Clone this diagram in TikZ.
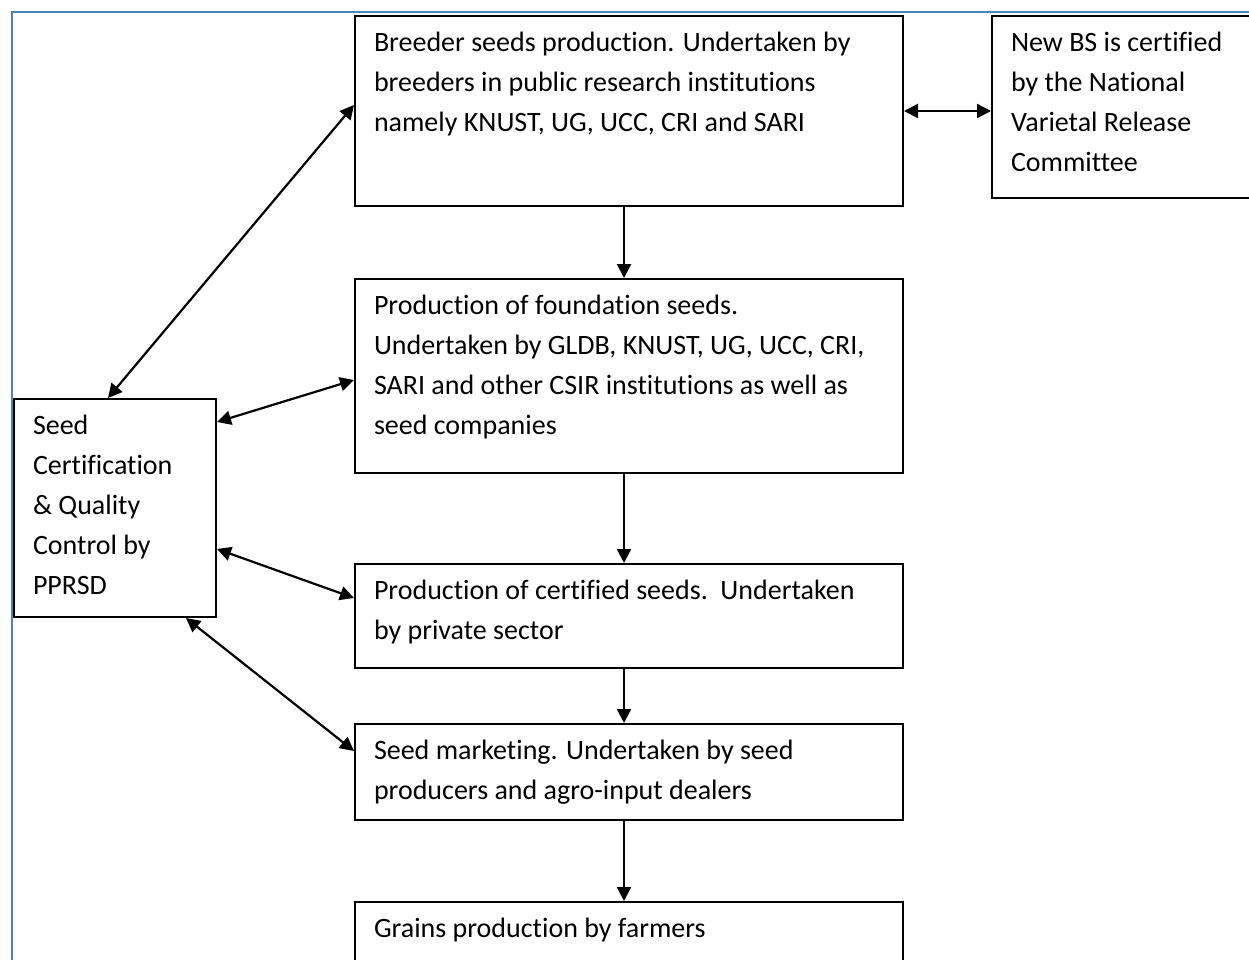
\documentclass[tikz,border=0pt]{standalone}
\usepackage{fontspec}
\setmainfont{Carlito}[Ligatures=NoCommon]
\usetikzlibrary{arrows.meta,positioning}
\definecolor{frameblue}{RGB}{79,129,189}
\newcommand{\boxtext}[3]{\parbox[t][#2][t]{#1}{#3}}

\begin{document}
\begin{tikzpicture}[
            x=1pt, y=1pt,
            stage/.style={draw, line width=2pt, anchor=north west, inner xsep=19pt, inner ysep=16pt, font=\fontsize{28}{40}\selectfont},
            arrow/.style={-{Triangle[length=14pt,width=14pt]}, line width=2.2pt},
            biarrow/.style={{Triangle[length=14pt,width=14pt]}-{Triangle[length=14pt,width=14pt]}, line width=2.2pt}
        ]
        \clip (0,0) rectangle (1249,-959);
        \useasboundingbox (0,0) rectangle (1249,-959);

        % Page frame
        \draw[frameblue, line width=2pt] (12,-12) rectangle (1300,-1000);

        \node[stage] (breeder) at (354,-15) {\boxtext{510pt}{158pt}{Breeder seeds production. Undertaken by\\breeders in public research institutions\\namely KNUST, UG, UCC, CRI and SARI}};

        \node[stage, right=87pt of breeder.north east, anchor=north west] (newbs) {\boxtext{224pt}{150pt}{New BS is certified\\by the National\\Varietal Release\\Committee}};

        \node[stage, below=71pt of breeder] (foundation) {\boxtext{510pt}{162pt}{Production of foundation seeds.\\Undertaken by GLDB, KNUST, UG, UCC, CRI,\\SARI and other CSIR institutions as well as\\seed companies}};

        \node[stage, below=89pt of foundation] (certified) {\boxtext{510pt}{72pt}{Production of certified seeds.\ \ Undertaken\\by private sector}};

        \node[stage, below=54pt of certified] (marketing) {\boxtext{510pt}{64pt}{Seed marketing. Undertaken by seed\\producers and agro-input dealers}};

        \node[stage, below=80pt of marketing] (grains) {\boxtext{510pt}{70pt}{Grains production by farmers}};

        \node[stage] (seedcert) at (13,-398) {\boxtext{164pt}{186pt}{Seed\\Certification\\\& Quality\\Control by\\PPRSD}};

        % Main flow arrows
        \draw[arrow] ([xshift=-5pt]breeder.south) -- ([xshift=-5pt]foundation.north);
        \draw[arrow] ([xshift=-5pt]foundation.south) -- ([xshift=-5pt]certified.north);
        \draw[arrow] ([xshift=-5pt]certified.south) -- ([xshift=-5pt]marketing.north);
        \draw[arrow] ([xshift=-5pt]marketing.south) -- ([xshift=-5pt]grains.north);

        % Two-way links
        \draw[biarrow] (breeder.east) -- (breeder.east -| newbs.west);
        \draw[biarrow] ([xshift=-7pt]seedcert.north) -- ([yshift=6pt]breeder.west);
        \draw[biarrow] ([yshift=-24pt]seedcert.north east) -- ([yshift=-4pt]foundation.west);
        \draw[biarrow] ([yshift=69pt]seedcert.south east) -- ([yshift=18pt]certified.west);
        \draw[biarrow] ([xshift=-31pt]seedcert.south east) -- ([yshift=21pt]marketing.west);

    \end{tikzpicture}
\end{document}
